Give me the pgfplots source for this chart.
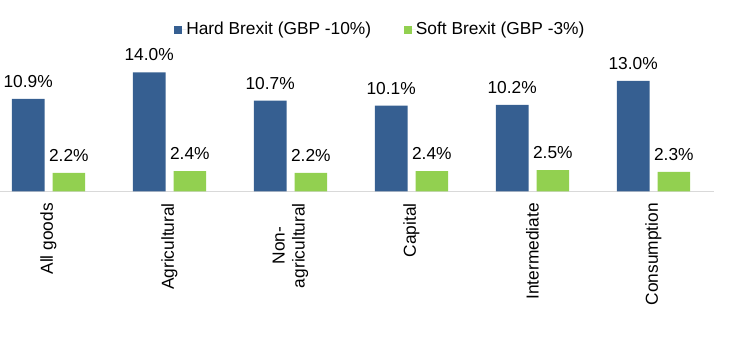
\documentclass[border=0pt]{standalone}
\usepackage{fontspec}
\setmainfont{Liberation Sans}
\usepackage{pgfplots}
\pgfplotsset{compat=1.18}
\definecolor{hardblue}{HTML}{365F91}
\definecolor{softgreen}{HTML}{92D050}
\definecolor{axisgray}{HTML}{D9D9D9}
\begin{document}
\fontsize{13}{15}\selectfont
\begin{tikzpicture}
\useasboundingbox (0,0) rectangle (549pt,254.25pt);
\begin{axis}[
  at={(-9pt,110.625pt)}, anchor=south west,
  x=90.75pt, y=6.375pt,
  xmin=-0.5, xmax=5.5, ymin=0, ymax=17,
  clip=false,
  ybar=6pt, bar width=24.5pt,
  axis x line*=bottom, axis y line=none,
  x axis line style={draw=axisgray, line width=1.3pt, -},
  major tick length=0pt,
  ytick=\empty,
  xtick={0,1,2,3,4,5},
  xticklabels={All goods, Agricultural, {Non-\\agricultural}, Capital, Intermediate, Consumption},
  xticklabel style={rotate=90, anchor=east, align=center, inner sep=0pt},
  xticklabel shift=8.6pt,
  /pgf/number format/assume math mode=true,
  nodes near coords={\pgfmathprintnumber[fixed,fixed zerofill,precision=1]{\pgfplotspointmeta}\%},
  nodes near coords style={anchor=south, inner sep=0pt, yshift=8.3pt},
  legend columns=2,
  legend cell align=left,
  legend image code/.code={\fill[#1] (0pt,-3pt) rectangle (6pt,3pt); \path (6pt,0pt) -- (9pt,0pt);},
  legend style={at={(0.2562,1.1177)}, anchor=west, draw=none, fill=none,
    inner sep=0pt, nodes={inner sep=0pt},
    /tikz/every even column/.append style={column sep=24.5pt}},
]
\addplot[draw=none, fill=hardblue] coordinates {(0,10.9) (1,14.0) (2,10.7) (3,10.1) (4,10.2) (5,13.0)};
\addplot[draw=none, fill=softgreen] coordinates {(0,2.2) (1,2.4) (2,2.2) (3,2.4) (4,2.5) (5,2.3)};
\legend{Hard Brexit (GBP -10\%), Soft Brexit (GBP -3\%)}
\end{axis}
\end{tikzpicture}
\end{document}
